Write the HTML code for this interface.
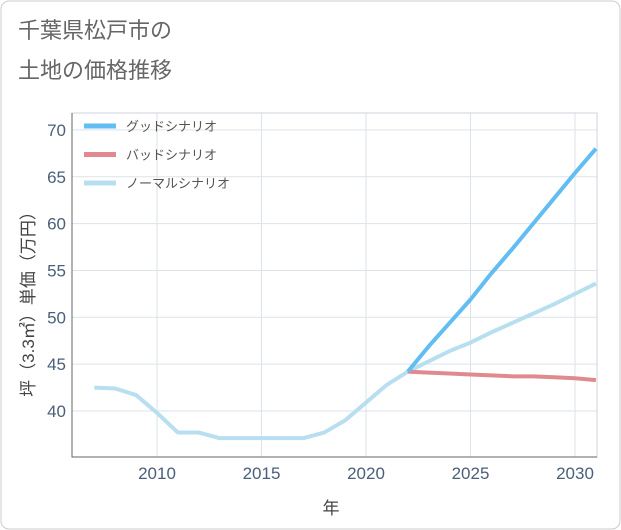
<!DOCTYPE html>
<html><head><meta charset="utf-8"><style>
body{margin:0;background:#fff;}
svg{display:block;font-family:"Liberation Sans","Noto Sans CJK JP",sans-serif;}
</style></head><body>
<svg id="c" width="621" height="530">
<rect x="1" y="1" width="619" height="528" rx="8" fill="#fff" stroke="#ccc"/>
<text x="18" y="38" font-size="22" fill="#666">千葉県松戸市の</text>
<text x="18" y="78" font-size="22" fill="#666">土地の価格推移</text>
<g id="plot"></g>
<text x="331" y="514" font-size="17" fill="#444" text-anchor="middle">年</text>
<text transform="translate(34,300) rotate(-90)" font-size="17" fill="#444" text-anchor="middle">坪（3.3㎡）単価（万円）</text>
</svg>
<script>
const years=[2007,2008,2009,2010,2011,2012,2013,2014,2015,2016,2017,2018,2019,2020,2021,2022];
const hist=[42.5,42.4,41.7,39.8,37.7,37.7,37.1,37.1,37.1,37.1,37.1,37.7,39.0,40.9,42.8,44.2];
const fYears=[2022,2023,2024,2025,2026,2027,2028,2029,2030,2031];
const good=[44.2,46.9,49.4,51.9,54.7,57.3,60.0,62.7,65.4,68.0];
const bad=[44.2,44.1,44.0,43.9,43.8,43.7,43.7,43.6,43.5,43.3];
const normal=[44.2,45.3,46.4,47.3,48.4,49.4,50.4,51.4,52.5,53.6];
const xTicks=[2010,2015,2020,2025,2030];
const yTicks=[40,45,50,55,60,65,70];
const X0=72,X1=597,Y0=113,Y1=457;
const xs=y=>157+(y-2010)*20.9;
const ys=v=>411-(v-40)*9.37;
const NS="http://www.w3.org/2000/svg";
const g=document.getElementById('plot');
function mk(t,a){const e=document.createElementNS(NS,t);for(const k in a)e.setAttribute(k,a[k]);g.appendChild(e);return e;}
let bg=mk('rect',{x:X0,y:Y0,width:X1-X0,height:Y1-Y0,fill:'#fff'});


xTicks.forEach(t=>{
 const l=mk('line',{x1:xs(t),x2:xs(t),y1:Y0,y2:Y1,stroke:'#dde3ea'});
 
 
 const tx=mk('text',{x:xs(t),y:Y1+22,'font-size':17,fill:'#4a5f7a','text-anchor':'middle'});
 tx.textContent=t;
 
 
});
yTicks.forEach(t=>{
 const l=mk('line',{x1:X0,x2:X1,y1:ys(t),y2:ys(t),stroke:'#dde3ea'});
 
 
 const tx=mk('text',{x:X0-6,y:ys(t)+6,'font-size':17,fill:'#4a5f7a','text-anchor':'end'});
 tx.textContent=t;
 
 
});
let fr=mk('rect',{x:X0,y:Y0,width:X1-X0,height:Y1-Y0,fill:'none',stroke:'#ccd3dc'});


let ax=mk('path',{d:`M${X0} ${Y0}V${Y1}H${X1}`,fill:'none',stroke:'#666'});


function line(xa,va,col,name){
 const p=mk('polyline',{points:xa.map((x,i)=>xs(x)+','+ys(va[i])).join(' '),fill:'none',stroke:col,'stroke-width':4,'stroke-linejoin':'round'});
 
 
}
line(years,hist,'#b8dff0','history-line');
line(fYears,normal,'#b8dff0','normal-scenario-line');
line(fYears,bad,'#e08a8f','bad-scenario-line');
line(fYears,good,'#62bdf2','good-scenario-line');
const legNames=['グッドシナリオ','バッドシナリオ','ノーマルシナリオ'];
const legCols=['#62bdf2','#e08a8f','#b8dff0'];
legNames.forEach((n,i)=>{
 const y=126+i*28.5;
 const l=mk('line',{x1:84,x2:116,y1:y,y2:y,stroke:legCols[i],'stroke-width':5});
 
 
 const t=mk('text',{x:126,y:y+5,'font-size':13,fill:'#555'});
 t.textContent=n;
 
 
});
</script>
</body></html>
